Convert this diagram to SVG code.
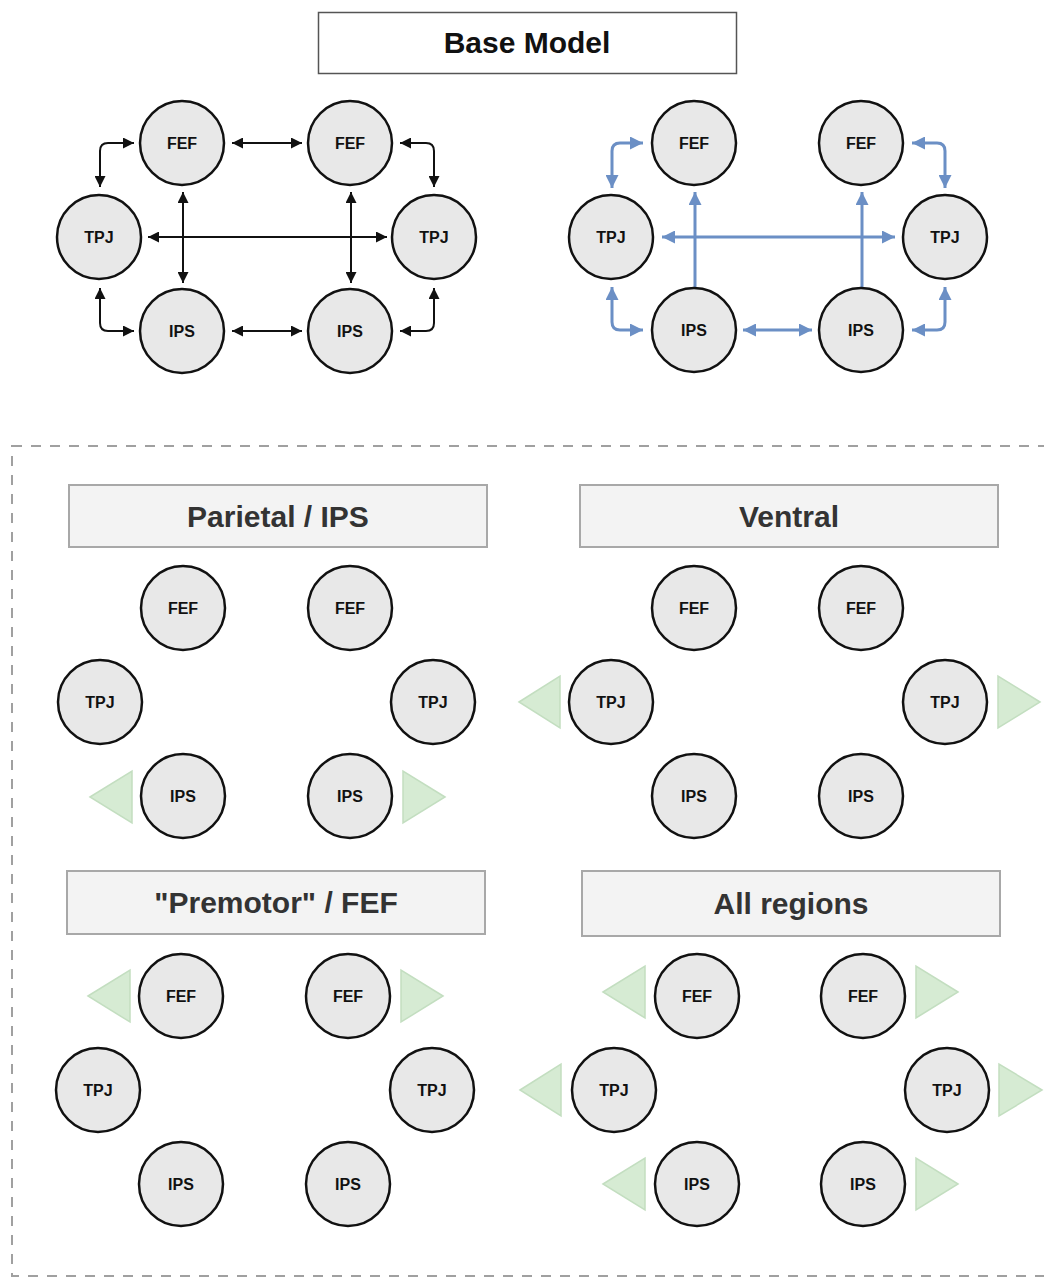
<svg xmlns="http://www.w3.org/2000/svg" width="1044" height="1278" viewBox="0 0 1044 1278">
<defs>
<style>
.node circle{fill:#e8e8e8;stroke:#111;stroke-width:2.5}
.node text{font-family:"Liberation Sans",Arial,sans-serif;font-weight:bold;font-size:16px;fill:#111;text-anchor:middle}
.blk{fill:none;stroke:#111;stroke-width:2;marker-start:url(#ak);marker-end:url(#ak)}
.blu{fill:none;stroke:#6b8fc5;stroke-width:3;marker-start:url(#ab);marker-end:url(#ab)}
.blu1{fill:none;stroke:#6b8fc5;stroke-width:3;marker-end:url(#ab)}
.tri{fill:#d6ebd3;stroke:#c3dec0;stroke-width:1.5}
.tbox{fill:#f3f3f3;stroke:#a8a8a8;stroke-width:2}
.ttext{font-family:"Liberation Sans",Arial,sans-serif;font-weight:bold;font-size:30px;fill:#333;text-anchor:middle}
</style>
<marker id="ak" viewBox="0 0 10 10" refX="10" refY="5" markerWidth="11" markerHeight="11" markerUnits="userSpaceOnUse" orient="auto-start-reverse"><path d="M0,0 L10,5 L0,10 z" fill="#111"/></marker>
<marker id="ab" viewBox="0 0 10 10" refX="10" refY="5" markerWidth="13" markerHeight="13" markerUnits="userSpaceOnUse" orient="auto-start-reverse"><path d="M0,0 L10,5 L0,10 z" fill="#6b8fc5"/></marker>
</defs>
<rect width="1044" height="1278" fill="#fff"/>

<g id="title-base">
<rect x="318.5" y="12.5" width="418" height="61" fill="#fff" stroke="#555" stroke-width="1.5"/>
<text x="527" y="53" style="font-family:'Liberation Sans',Arial,sans-serif;font-weight:bold;font-size:30px;fill:#111;text-anchor:middle">Base Model</text>
</g>

<g id="connectors">
<path class="blk" d="M232,143 H302"/>
<path class="blk" d="M232,331 H302"/>
<path class="blk" d="M148,237 H387"/>
<path class="blk" d="M183,192 V283"/>
<path class="blk" d="M351,192 V283"/>
<path class="blk" d="M134,143 H108 Q100,143 100,151 V187"/>
<path class="blk" d="M100,288 V323 Q100,331 108,331 H134"/>
<path class="blk" d="M400,143 H426 Q434,143 434,151 V187"/>
<path class="blk" d="M400,331 H426 Q434,331 434,323 V288"/>

<path class="blu1" d="M695,287 V192"/>
<path class="blu1" d="M862,287 V192"/>
<path class="blu" d="M662,237 H895"/>
<path class="blu" d="M743,330 H812"/>
<path class="blu" d="M643,143 H620 Q612,143 612,151 V188"/>
<path class="blu" d="M612,287 V322 Q612,330 620,330 H643"/>
<path class="blu" d="M912,143 H937 Q945,143 945,151 V188"/>
<path class="blu" d="M912,330 H937 Q945,330 945,322 V287"/>
</g>

<g id="a-fef1" class="node"><circle cx="182" cy="143" r="42"/><text x="182" y="149">FEF</text></g>
<g id="a-fef2" class="node"><circle cx="350" cy="143" r="42"/><text x="350" y="149">FEF</text></g>
<g id="a-tpj1" class="node"><circle cx="99" cy="237" r="42"/><text x="99" y="243">TPJ</text></g>
<g id="a-tpj2" class="node"><circle cx="434" cy="237" r="42"/><text x="434" y="243">TPJ</text></g>
<g id="a-ips1" class="node"><circle cx="182" cy="331" r="42"/><text x="182" y="337">IPS</text></g>
<g id="a-ips2" class="node"><circle cx="350" cy="331" r="42"/><text x="350" y="337">IPS</text></g>

<g id="b-fef1" class="node"><circle cx="694" cy="143" r="42"/><text x="694" y="149">FEF</text></g>
<g id="b-fef2" class="node"><circle cx="861" cy="143" r="42"/><text x="861" y="149">FEF</text></g>
<g id="b-tpj1" class="node"><circle cx="611" cy="237" r="42"/><text x="611" y="243">TPJ</text></g>
<g id="b-tpj2" class="node"><circle cx="945" cy="237" r="42"/><text x="945" y="243">TPJ</text></g>
<g id="b-ips1" class="node"><circle cx="694" cy="330" r="42"/><text x="694" y="336">IPS</text></g>
<g id="b-ips2" class="node"><circle cx="861" cy="330" r="42"/><text x="861" y="336">IPS</text></g>

<rect id="dashed-frame" x="12" y="446" width="1042" height="830" fill="none" stroke="#a0a0a0" stroke-width="2" stroke-dasharray="10 9"/>

<g id="panel-parietal">
<rect class="tbox" x="69" y="485" width="418" height="62"/>
<text class="ttext" x="278" y="527">Parietal / IPS</text>
<polygon class="tri" points="90,797 132,771 132,823"/>
<polygon class="tri" points="445,797 403,771 403,823"/>
</g>
<g id="p-fef1" class="node"><circle cx="183" cy="608" r="42"/><text x="183" y="614">FEF</text></g>
<g id="p-fef2" class="node"><circle cx="350" cy="608" r="42"/><text x="350" y="614">FEF</text></g>
<g id="p-tpj1" class="node"><circle cx="100" cy="702" r="42"/><text x="100" y="708">TPJ</text></g>
<g id="p-tpj2" class="node"><circle cx="433" cy="702" r="42"/><text x="433" y="708">TPJ</text></g>
<g id="p-ips1" class="node"><circle cx="183" cy="796" r="42"/><text x="183" y="802">IPS</text></g>
<g id="p-ips2" class="node"><circle cx="350" cy="796" r="42"/><text x="350" y="802">IPS</text></g>

<g id="panel-ventral">
<rect class="tbox" x="580" y="485" width="418" height="62"/>
<text class="ttext" x="789" y="527">Ventral</text>
<polygon class="tri" points="519,702 560,676 560,728"/>
<polygon class="tri" points="1040,702 998,676 998,728"/>
</g>
<g id="v-fef1" class="node"><circle cx="694" cy="608" r="42"/><text x="694" y="614">FEF</text></g>
<g id="v-fef2" class="node"><circle cx="861" cy="608" r="42"/><text x="861" y="614">FEF</text></g>
<g id="v-tpj1" class="node"><circle cx="611" cy="702" r="42"/><text x="611" y="708">TPJ</text></g>
<g id="v-tpj2" class="node"><circle cx="945" cy="702" r="42"/><text x="945" y="708">TPJ</text></g>
<g id="v-ips1" class="node"><circle cx="694" cy="796" r="42"/><text x="694" y="802">IPS</text></g>
<g id="v-ips2" class="node"><circle cx="861" cy="796" r="42"/><text x="861" y="802">IPS</text></g>

<g id="panel-premotor">
<rect class="tbox" x="67" y="871" width="418" height="63"/>
<text class="ttext" x="276" y="913">"Premotor" / FEF</text>
<polygon class="tri" points="88,996 130,970 130,1022"/>
<polygon class="tri" points="443,996 401,970 401,1022"/>
</g>
<g id="m-fef1" class="node"><circle cx="181" cy="996" r="42"/><text x="181" y="1002">FEF</text></g>
<g id="m-fef2" class="node"><circle cx="348" cy="996" r="42"/><text x="348" y="1002">FEF</text></g>
<g id="m-tpj1" class="node"><circle cx="98" cy="1090" r="42"/><text x="98" y="1096">TPJ</text></g>
<g id="m-tpj2" class="node"><circle cx="432" cy="1090" r="42"/><text x="432" y="1096">TPJ</text></g>
<g id="m-ips1" class="node"><circle cx="181" cy="1184" r="42"/><text x="181" y="1190">IPS</text></g>
<g id="m-ips2" class="node"><circle cx="348" cy="1184" r="42"/><text x="348" y="1190">IPS</text></g>

<g id="panel-all">
<rect class="tbox" x="582" y="871" width="418" height="65"/>
<text class="ttext" x="791" y="914">All regions</text>
<polygon class="tri" points="603,992 645,966 645,1018"/>
<polygon class="tri" points="958,992 916,966 916,1018"/>
<polygon class="tri" points="520,1090 561,1064 561,1116"/>
<polygon class="tri" points="1042,1090 999,1064 999,1116"/>
<polygon class="tri" points="603,1184 645,1158 645,1210"/>
<polygon class="tri" points="958,1184 916,1158 916,1210"/>
</g>
<g id="r-fef1" class="node"><circle cx="697" cy="996" r="42"/><text x="697" y="1002">FEF</text></g>
<g id="r-fef2" class="node"><circle cx="863" cy="996" r="42"/><text x="863" y="1002">FEF</text></g>
<g id="r-tpj1" class="node"><circle cx="614" cy="1090" r="42"/><text x="614" y="1096">TPJ</text></g>
<g id="r-tpj2" class="node"><circle cx="947" cy="1090" r="42"/><text x="947" y="1096">TPJ</text></g>
<g id="r-ips1" class="node"><circle cx="697" cy="1184" r="42"/><text x="697" y="1190">IPS</text></g>
<g id="r-ips2" class="node"><circle cx="863" cy="1184" r="42"/><text x="863" y="1190">IPS</text></g>
</svg>
